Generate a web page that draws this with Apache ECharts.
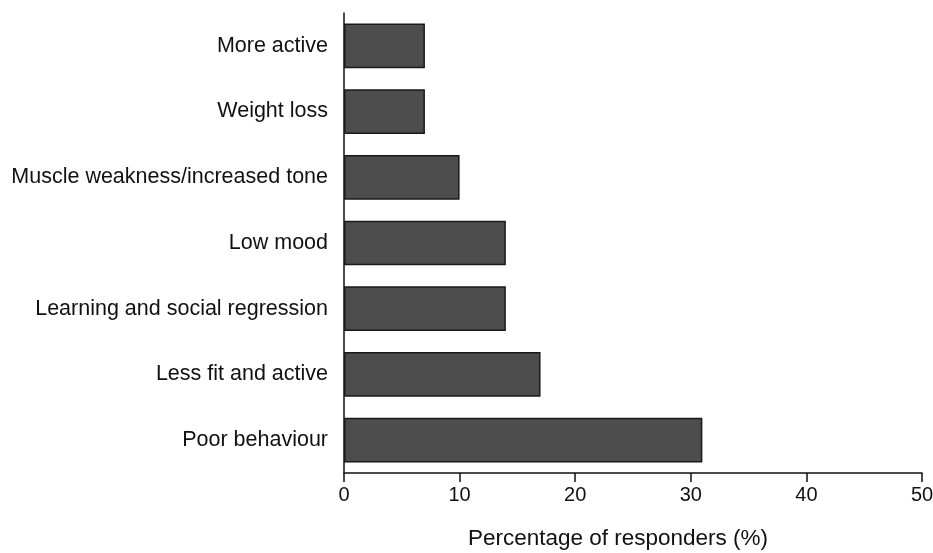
<!DOCTYPE html>
<html>
<head>
<meta charset="utf-8">
<script src="https://cdn.jsdelivr.net/npm/echarts@6/dist/echarts.min.js"></script>
<style>
  html, body { margin: 0; padding: 0; background: #fff; }
  #chart { width: 933px; height: 553px; }
</style>
</head>
<body>
<div id="chart"></div>
<script>
// categories listed bottom to top (category axis on y starts at the bottom)
const categories = [
  'Poor behaviour',
  'Less fit and active',
  'Learning and social regression',
  'Low mood',
  'Muscle weakness/increased tone',
  'Weight loss',
  'More active'
];
const percentages = [31, 17, 14, 14, 10, 7, 7];
const xTicks = [0, 10, 20, 30, 40, 50];

const chart = echarts.init(document.getElementById('chart'));
chart.setOption({
  animation: false,
  textStyle: { fontFamily: 'Liberation Sans, Arial, sans-serif' },
  grid: { left: 344, right: 11, top: 13, bottom: 80, containLabel: false, outerBoundsMode: 'none' },
  xAxis: {
    type: 'value',
    min: xTicks[0],
    max: xTicks[xTicks.length - 1],
    interval: 10,
    name: 'Percentage of responders (%)',
    nameLocation: 'middle',
    nameGap: 54,
    nameTextStyle: { fontSize: 22.5, color: '#111', padding: [0, 30, 0, 0] },
    axisLine: { show: true, lineStyle: { color: '#111', width: 1.5 } },
    axisTick: { show: true, length: 9, lineStyle: { color: '#111', width: 1.5 } },
    axisLabel: { fontSize: 20, color: '#111', margin: 12 },
    splitLine: { show: false }
  },
  yAxis: {
    type: 'category',
    data: categories,
    axisLine: { show: true, lineStyle: { color: '#111', width: 1.5 } },
    axisTick: { show: false },
    axisLabel: { fontSize: 21.5, color: '#111', margin: 16 }
  },
  series: [{
    type: 'bar',
    data: percentages,
    barCategoryGap: '32%',
    itemStyle: { color: '#4d4d4d', borderColor: '#1a1a1a', borderWidth: 1.5 }
  }]
});
</script>
</body>
</html>
